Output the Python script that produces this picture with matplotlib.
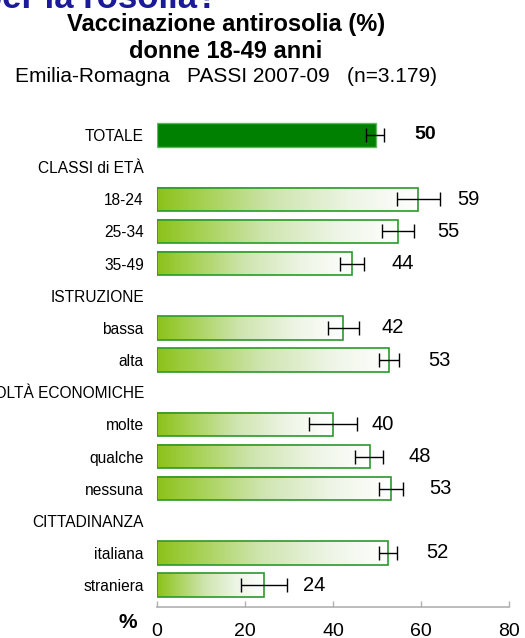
import numpy as np
import matplotlib
matplotlib.use("Agg")
import matplotlib.pyplot as plt
from matplotlib.colors import LinearSegmentedColormap

plt.rcParams['font.family'] = ['Liberation Sans', 'DejaVu Sans']

# ---- data ----
labels = ["TOTALE", "CLASSI di ETÀ", "18-24", "25-34", "35-49", "ISTRUZIONE",
          "bassa", "alta", "DIFFICOLTÀ ECONOMICHE", "molte", "qualche", "nessuna",
          "CITTADINANZA", "italiana", "straniera"]
values = [49.8, np.nan, 59.4, 54.8, 44.4, np.nan, 42.3, 52.8, np.nan, 39.9, 48.3, 53.1,
          np.nan, 52.4, 24.3]
ci_low = [47.6, np.nan, 54.5, 51.2, 41.7, np.nan, 38.9, 50.5, np.nan, 34.5, 45.0, 50.5,
          np.nan, 50.5, 19.0]
ci_high = [51.6, np.nan, 64.3, 58.3, 47.0, np.nan, 45.8, 55.1, np.nan, 45.4, 51.4, 55.8,
           np.nan, 54.5, 29.6]
xticks = [0, 20, 40, 60, 80]

W, H = 525, 638
fig = plt.figure(figsize=(W / 100, H / 100), dpi=100)
ax = fig.add_axes([157 / W, 1 - 607 / H, (509 - 157) / W, (607 - 115.7) / H])

rows = np.arange(len(labels))
vals = np.array(values, dtype=float)
lo = np.array(ci_low, dtype=float)
hi = np.array(ci_high, dtype=float)
bh = 0.73

cmap = LinearSegmentedColormap.from_list(
    "grad", [(0.0, "#8cc21a"), (0.15, "#a2cf4a"), (0.45, "#cfe5b0"),
             (0.75, "#eef5e6"), (1.0, "#ffffff")])
grad = np.linspace(0, 1, 256).reshape(1, -1)

for r, v in zip(rows, vals):
    if np.isnan(v):
        continue
    if r == 0:
        ax.barh(r, v, height=bh, color="#008000", edgecolor="#5fb85f",
                linewidth=1.0, zorder=2)
    else:
        ax.imshow(grad, extent=(0, v, r + bh / 2, r - bh / 2), aspect='auto',
                  cmap=cmap, zorder=1, interpolation='bilinear')
        ax.barh(r, v, height=bh, facecolor='none', edgecolor="#2a9a2a",
                linewidth=1.2, zorder=2)

mask = ~np.isnan(vals)
ax.errorbar(vals[mask], rows[mask],
            xerr=[vals[mask] - lo[mask], hi[mask] - vals[mask]],
            fmt='none', ecolor='black', elinewidth=1.0, capsize=4.7,
            capthick=1.0, zorder=3)

for r, v in zip(rows, vals):
    if np.isnan(v):
        continue
    ax.text(v + 8.8, r, f"{round(v):d}", ha='left', va='center',
            fontsize=14.5 if r else 14,
            fontweight='bold' if r == 0 else 'normal', color='black')

ax.set_xlim(0, 80)
ax.set_ylim(14.68, -0.6)
ax.set_yticks(rows)
ax.set_yticklabels(labels, fontsize=11.2)
ax.tick_params(axis='y', length=0, pad=9.5)
ax.set_xticks(xticks)
ax.set_xticklabels([str(t) for t in xticks], fontsize=14)
ax.tick_params(axis='x', direction='in', length=4.3, width=1, color='#b0b0b0',
               pad=11.5)
for s in ['top', 'right', 'left']:
    ax.spines[s].set_visible(False)
ax.spines['bottom'].set_color('#b0b0b0')
ax.spines['bottom'].set_linewidth(1.2)
ax.set_facecolor('white')

fig.text(127.5 / W, 1 - 622 / H, "%", ha='center', va='center', fontsize=15,
         fontweight='bold')

fig.text(218 / W, 1 - 8 / H, "per la rosolia?", ha='right', va='baseline',
         fontsize=25, fontweight='bold', color='#1a1a9a')
fig.text(226 / W, 1 - 25 / H, "Vaccinazione antirosolia (%)", ha='center',
         va='center', fontsize=17, fontweight='bold')
fig.text(226 / W, 1 - 51 / H, "donne 18-49 anni", ha='center', va='center',
         fontsize=17, fontweight='bold')
fig.text(226 / W, 1 - 76 / H, "Emilia-Romagna   PASSI 2007-09   (n=3.179)",
         ha='center', va='center', fontsize=15)

fig.savefig("out.png", dpi=100)
